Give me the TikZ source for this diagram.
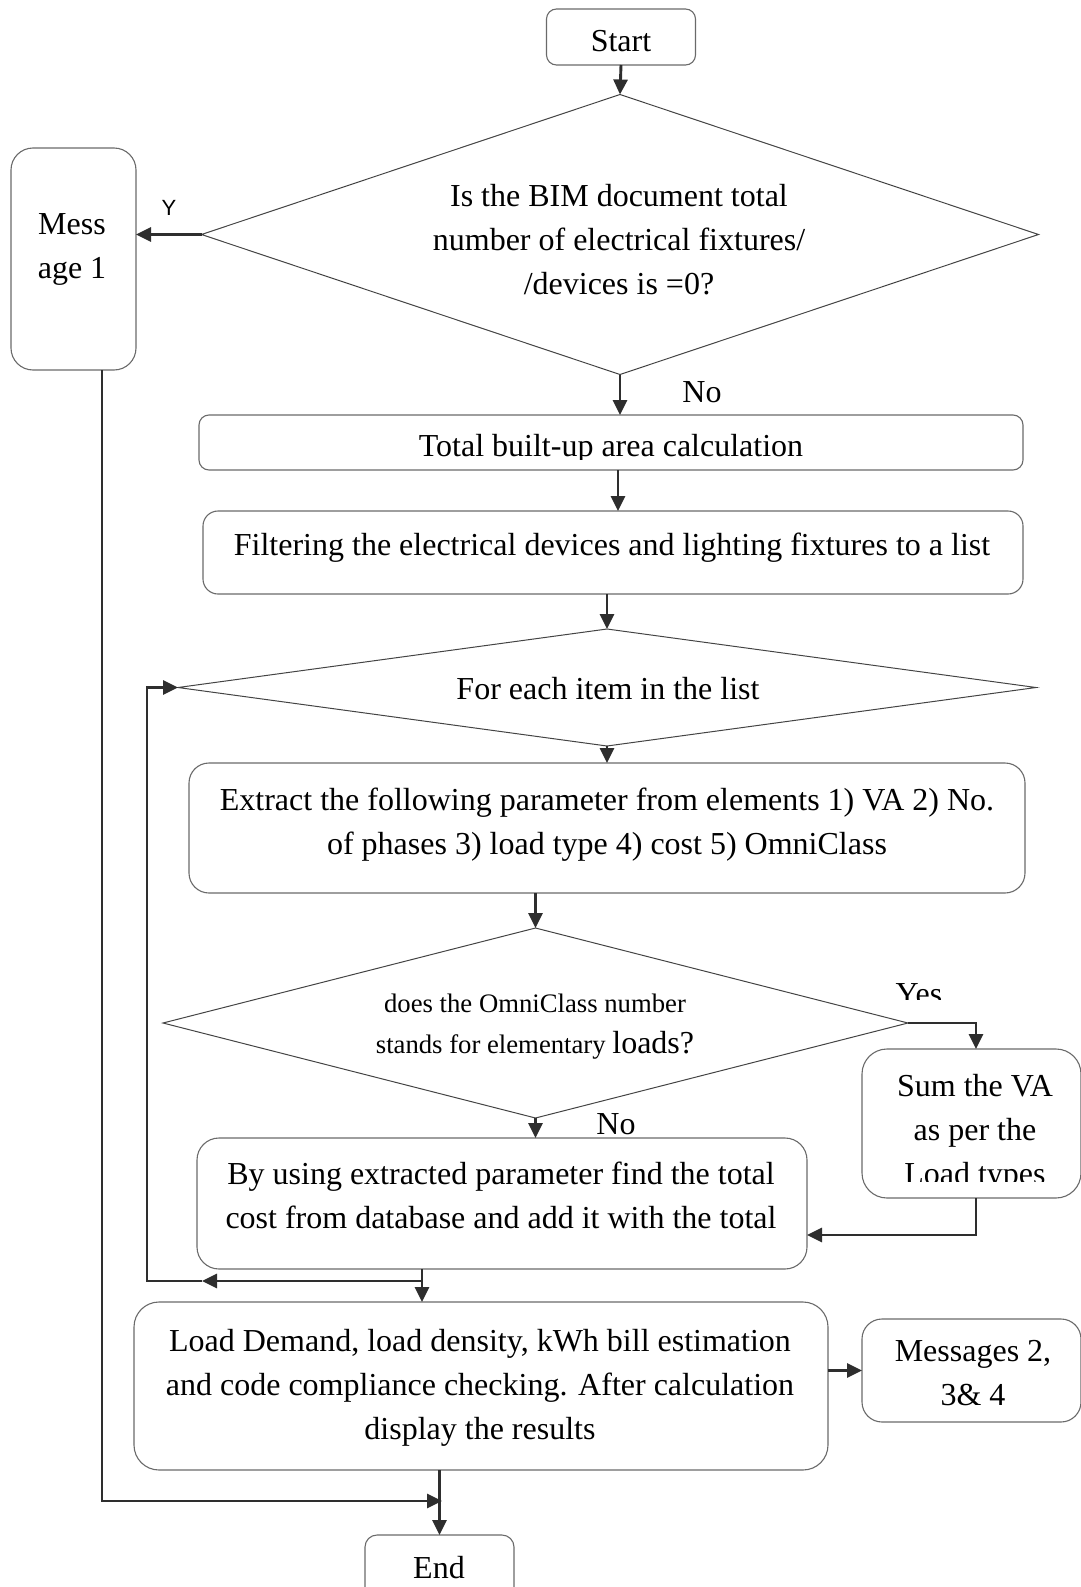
\documentclass[tikz,border=0pt]{standalone}
\usepackage{fontspec}
\setmainfont{Liberation Serif}
\newfontfamily\labelsans{Liberation Sans}
\usetikzlibrary{arrows.meta,shapes.geometric,calc}

\definecolor{boxgray}{HTML}{6A6A6A}
\definecolor{linegray}{HTML}{2E2E2E}
\definecolor{edgegray}{HTML}{444444}

\tikzset{
  box/.style={draw=boxgray, line width=1.1pt, rounded corners=#1,
              inner sep=0pt, outer sep=0pt},
  box/.default=15pt,
  decision/.style={draw=edgegray, line width=1pt, diamond,
                   inner sep=0pt, outer sep=0pt},
  conn/.style={draw=linegray, line width=2.9pt,
               -{Triangle[length=15pt,width=14pt]}},
  txt/.style={font=\fontsize{32}{44}\selectfont, align=center, inner sep=0pt},
  smalltxt/.style={font=\fontsize{26.7}{41}\selectfont, align=center, inner sep=0pt},
  tag/.style={font=\labelsans\fontsize{22}{26}\selectfont, inner sep=0pt},
}

\begin{document}
\begin{tikzpicture}[x=1pt,y=-1pt]
\useasboundingbox (0,0) rectangle (1081,1587);
\clip (0,0) rectangle (1081,1587);

% ---- shapes ----
\node[box=10pt, minimum width=149pt, minimum height=56pt] (start) at (621,37) {};
\node[txt] (starttxt) at (621,41) {Start};

\node[decision, minimum width=837pt, minimum height=280pt] (d1) at (620,234.5) {};
\node[txt] (d1txt) at (619,240) {Is the BIM document total\\number of electrical fixtures/\\/devices is =0?};

\node[box=22pt, minimum width=125pt, minimum height=222pt] (msg1) at (73.5,259) {};
\node[txt] (msg1txt) at (72,249) {Mess\\age 1};

\node[box=10pt, minimum width=824pt, minimum height=55pt] (total) at (611,442.5) {};
\begin{scope}
  \clip (199,415) rectangle (1023,459);
  \node[txt] (totaltxt) at (611,449) {Total built-up area calculation};
\end{scope}

\node[box=15pt, minimum width=820pt, minimum height=83pt] (filter) at (613,552.5) {};
\node[txt] (filtertxt) at (612,548) {Filtering the electrical devices and lighting fixtures to a list};

\node[decision, minimum width=858pt, minimum height=117pt] (d2) at (607,687.5) {};
\node[txt] (d2txt) at (608,689) {For each item in the list};

\node[box=20pt, minimum width=836pt, minimum height=130pt] (extract) at (607,828) {};
\node[txt] (extracttxt) at (607,825) {Extract the following parameter from elements 1) VA 2) No.\\of phases 3) load type 4) cost 5) OmniClass};

\node[decision, minimum width=745pt, minimum height=190pt] (d3) at (535.5,1023) {};
\node[smalltxt] (d3txt) at (535,1027) {does the OmniClass number\\stands for elementary {\fontsize{32}{41}\selectfont loads?}};

\node[box=25pt, minimum width=219pt, minimum height=149pt] (sum) at (971.5,1123.5) {};
\begin{scope}
  \clip (861,1049) rectangle (1081,1181);
  \node[txt] (sumtxt) at (975,1133) {Sum the VA\\as per the\\Load types};
\end{scope}

\node[box=22pt, minimum width=610pt, minimum height=131pt] (by) at (502,1203.5) {};
\node[txt] (bytxt) at (501,1195) {By using extracted parameter find the total\\cost from database and add it with the total};

\node[box=25pt, minimum width=694pt, minimum height=168pt] (load) at (481,1386) {};
\node[txt] (loadtxt) at (480,1388) {Load Demand, load density, kWh bill estimation\\and code compliance checking. After calculation\\display the results};

\node[box=20pt, minimum width=219pt, minimum height=103pt] (msgs) at (971.5,1370.5) {};
\node[txt] (msgstxt) at (973,1373) {Messages 2,\\3\& 4};

\node[box=12pt, minimum width=149pt, minimum height=65pt] (end) at (439.5,1567.5) {};
\node[txt] (endtxt) at (439,1568) {End};

% ---- labels ----
\node[tag] (ylbl) at (169,208) {Y};
\node[txt] (no1) at (702,392) {No};
\node[txt] (no2) at (616,1124) {No};
\begin{scope}
  \clip (880,960) rectangle (960,999);
  \node[txt, anchor=base] (yeslbl) at (919,1004) {Yes};
\end{scope}

% ---- connectors ----
\draw[conn] (start.south) -- (d1.north);
\draw[conn] (d1.west) -- (d1.west -| msg1.east);
\draw[conn] (d1.south) -- (d1.south |- total.north);
\draw[conn] ([xshift=7pt]total.south) -- ([xshift=7pt]total.south |- filter.north);
\draw[conn] (filter.south -| d2.north) -- (d2.north);
\draw[conn] (d2.south) -- (d2.south |- extract.north);
\draw[conn] (extract.south -| d3.north) -- (d3.north);
\draw[conn] (d3.east) -| ([xshift=4.5pt]sum.north);
\draw[conn] ([xshift=4.5pt]sum.south) |- ([yshift=-31.5pt]by.east);
\draw[conn] (d3.south) -- (d3.south |- by.north);

% return loop to the list iteration
\coordinate (fork) at (422,1281);
\coordinate (loopmark) at (202,1281);
\coordinate (loopcorner) at (147,1281);
\draw[conn] ([xshift=-80pt]by.south) -- ([xshift=-80pt]by.south |- load.north);
\draw[conn] (fork) -- (loopmark);
\draw[conn] (loopmark) -- (loopcorner) |- (d2.west);

\draw[conn] (load.east |- msgs.west) -- (msgs.west);

% exit path from the first message
\coordinate (endjoin) at (442,1501);
\draw[conn] ([xshift=28.5pt]msg1.south) |- (endjoin);
\draw[conn] (load.south -| end.north) -- (end.north);
\end{tikzpicture}
\end{document}
